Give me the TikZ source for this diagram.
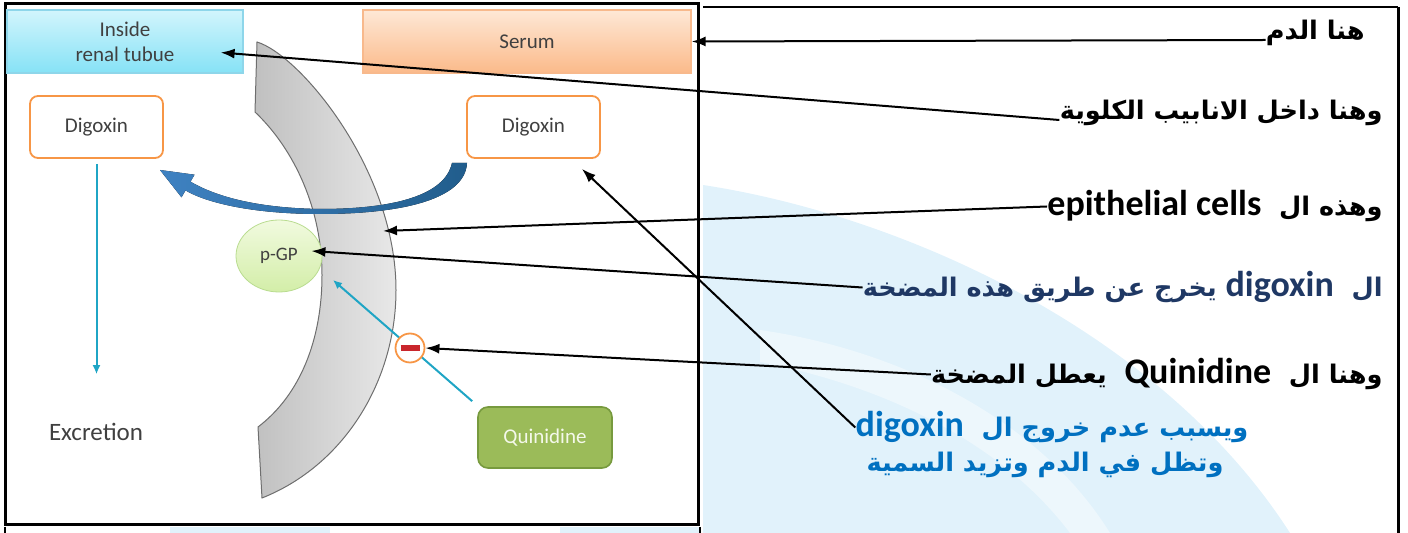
\documentclass[tikz,border=0pt]{standalone}
\usepackage{fontspec}
\setmainfont{Carlito}
\newfontfamily\arabicfont[Script=Arabic]{DejaVu Sans}
\newfontfamily\latinfont{Carlito}
\usepackage{tikz}
\usetikzlibrary{shapes,arrows.meta}
\TeXXeTstate=1
\newcommand{\latword}[1]{\beginL{\latinfont\fontsize{18}{20}\selectfont #1}\endL}

\definecolor{inkgray}{HTML}{404040}
\definecolor{digorange}{HTML}{F79646}
\definecolor{tubetop}{HTML}{D2F5FC}
\definecolor{tubebot}{HTML}{86E2F6}
\definecolor{tubeedge}{HTML}{8ED6EA}
\definecolor{serumtop}{HTML}{FEE8D6}
\definecolor{serumbot}{HTML}{FBBA8A}
\definecolor{serumedge}{HTML}{F8B98C}
\definecolor{membdark}{HTML}{C0C0C0}
\definecolor{memblight}{HTML}{E8E8E8}
\definecolor{membedge}{HTML}{6E6E6E}
\definecolor{pumpdark}{HTML}{215D8C}
\definecolor{pumplight}{HTML}{3F82C2}
\definecolor{pgptop}{HTML}{F1FADF}
\definecolor{pgpbot}{HTML}{D3EEA8}
\definecolor{pgpedge}{HTML}{B9DC90}
\definecolor{cyanline}{HTML}{1FA5C5}
\definecolor{blockred}{HTML}{C9262C}
\definecolor{quinfill}{HTML}{9BBB59}
\definecolor{quinedge}{HTML}{779A3E}
\definecolor{quintext}{HTML}{F4F8EA}
\definecolor{navynote}{HTML}{1F3864}
\definecolor{bluenote}{HTML}{0070C0}
\definecolor{wmblue}{HTML}{E1F2FB}

\begin{document}
\begin{tikzpicture}[x=0.5pt,y=-0.5pt,
  every node/.style={font=\fontsize{10.5}{12.5}\selectfont, text=inkgray},
  zone/.style={minimum height=31.5pt, align=center, line width=0.6pt},
  digbox/.style={draw=digorange, line width=0.9pt, fill=white, rounded corners=4pt,
    minimum width=66.5pt, minimum height=31pt},
  note/.style={inner sep=0pt, text=black, font=\arabicfont\bfseries\fontsize{12.8}{16}\selectfont},
  pointer/.style={-{Latex[length=7pt,width=5pt]}, line width=1pt, black},
  feed/.style={-{Latex[length=4.5pt,width=4pt]}, line width=1pt, cyanline}]
 \useasboundingbox (0,0) rectangle (1408,533);

 % faint logo behind the notes
 \fill[wmblue] (703,185) .. controls (900,215) and (1160,330) .. (1290,533) -- (703,533) -- cycle;
 \fill[white, opacity=0.4] (760,330) .. controls (900,350) and (1040,420) .. (1110,533) -- (1070,533) .. controls (1000,440) and (880,385) .. (760,362) -- cycle;
 \fill[wmblue] (170,527) rectangle (330,533);
 \fill[wmblue] (560,527) rectangle (700,533);

 % frames
 \draw[line width=1.5pt] (5,4) rectangle (698,525);
 \draw[line width=0.8pt] (703,7) -- (1398,7);
 \draw[line width=1.5pt] (1398,7) -- (1398,533);
 \draw[line width=1pt] (5,527) -- (5,533);
 \draw[line width=1pt] (700,527) -- (700,533);

 \node[zone, draw=tubeedge, top color=tubetop, bottom color=tubebot, minimum width=118pt] (tubule) at (125,41.5) {Inside\\renal tubue};
 \node[zone, draw=serumedge, top color=serumtop, bottom color=serumbot, minimum width=164pt] (serum) at (527,41.5) {Serum};

 \node[digbox] (digL) at (96.5,127) {Digoxin};
 \node[digbox] (digR) at (533.5,127) {Digoxin};

 % membrane
 \path[draw=membedge, line width=0.5pt, left color=membdark, right color=memblight]
   (257,42) .. controls (300,55) and (396,170) .. (396,290)
   .. controls (396,380) and (345,465) .. (262,498) -- (258,427)
   .. controls (300,395) and (322,340) .. (322,275)
   .. controls (322,210) and (295,150) .. (255,112) -- cycle;

 % pump arrow
 \path[fill, left color=pumplight, right color=pumpdark]
   (452,163) -- (467,163) .. controls (465,200) and (400,214) .. (320,214)
   .. controls (250,214) and (205,202) .. (185.5,190.4) -- (181.5,197.3) -- (160,170)
   -- (194.5,174.7) -- (190.5,181.7) .. controls (215,196) and (255,208) .. (320,209)
   .. controls (395,209) and (445,195) .. (452,163) -- cycle;

 \node[ellipse, draw=pgpedge, top color=pgptop, bottom color=pgpbot, minimum width=43pt,
   minimum height=36pt, inner sep=0pt, font=\fontsize{9.5}{11}\selectfont] (pgp) at (279,256) {p-GP};

 \node[draw=quinedge, fill=quinfill, rounded corners=5pt, line width=0.8pt, minimum width=67pt,
   minimum height=30.5pt, text=quintext] (quin) at (545,437.5) {Quinidine};
 \node[font=\fontsize{12.5}{14}\selectfont] (excr) at (96,432) {Excretion};

 \coordinate (pgpin) at (333,280);
 \coordinate (cellsite) at (383,231);

 \draw[feed] ([xshift=-2.5pt,yshift=2.5pt]quin.north west) -- (pgpin);
 \draw[feed, shorten <=2.5pt, shorten >=21pt] (digL.south) -- (digL.south |- excr.north);
 \node[circle, draw=digorange, line width=0.9pt, fill=white, minimum size=14.5pt, inner sep=0pt] (block) at (410,348) {\color{blockred}\rule[-1.5pt]{9.5pt}{3pt}};

 % notes
 \node[note, anchor=base east] (blood) at (1365,40) {\beginR هنا الدم\endR};
 \node[note, anchor=base east] (tubenote) at (1383,120) {\beginR وهنا داخل الانابيب الكلوية\endR};
 \node[note, anchor=base east] (cellnote) at (1383,216) {\beginR وهذه ال\ \ \latword{epithelial cells}\endR};
 \node[note, anchor=base east, text=navynote] (pumpnote) at (1383,297) {\beginR ال\ \ \latword{digoxin}\ يخرج عن طريق هذه المضخة\endR};
 \node[note, anchor=base east] (quinnote) at (1383,384) {\beginR وهنا ال\ \ \latword{Quinidine}\ \ يعطل المضخة\endR};
 \node[note, anchor=base, text=bluenote] (toxA) at (1052,437) {\beginR ويسبب عدم خروج ال\ \ \latword{digoxin}\endR};
 \node[note, anchor=base, text=bluenote] (toxB) at (1045,472) {\beginR وتظل في الدم وتزيد السمية\endR};

 \draw[pointer] (blood.base west) -- (serum.east);
 \draw[pointer] (tubenote.base west) -- ([xshift=-11.5pt,yshift=-5.5pt]tubule.east);
 \draw[pointer] (cellnote.west) -- (cellsite);
 \draw[pointer] (pumpnote.west) -- ([xshift=-5.5pt,yshift=2.5pt]pgp.east);
 \draw[pointer] (quinnote.west) -- (block.east);
 \draw[pointer] (toxA.west) -- ([xshift=-9.5pt,yshift=-5pt]digR.south east);

\end{tikzpicture}
\end{document}
